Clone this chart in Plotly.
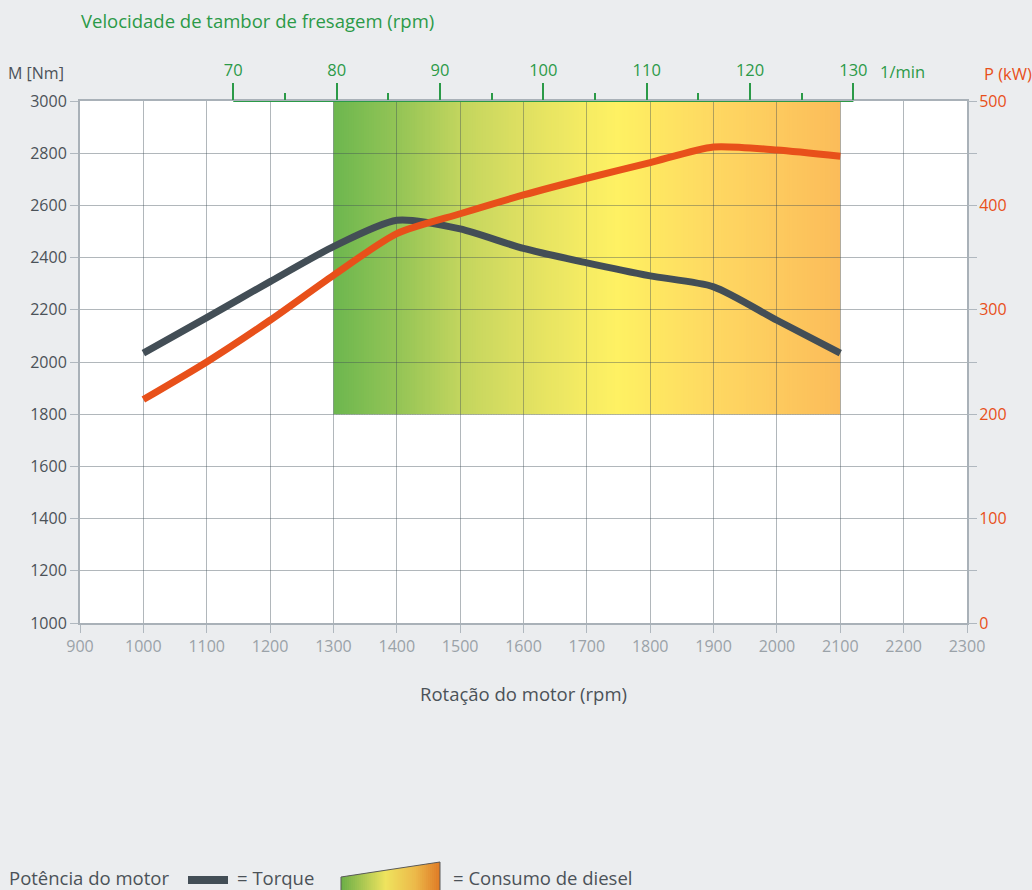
import plotly.graph_objects as go

# ---------------- data ----------------
rpm = [1000, 1100, 1200, 1300, 1400, 1500, 1600, 1700, 1800, 1900, 2000, 2100]
torque_nm = [2034, 2170, 2308, 2442, 2543, 2510, 2435, 2380, 2330, 2288, 2160, 2034]
power_kw = [214, 250, 290, 333, 373, 392, 410, 426, 441, 456, 453, 447]

x_ticks = list(range(900, 2301, 100))
y_ticks = list(range(1000, 3001, 200))
p_ticks = [0, 100, 200, 300, 400, 500]

drum_ticks = [70, 80, 90, 100, 110, 120, 130]
drum_minor = [75, 85, 95, 105, 115, 125]
drum_per_engine = 0.0613  # drum rpm per engine rpm

consumo_rpm = [1300, 2100]
consumo_nm = [1800, 3000]
consumo_pos = [0.0, 0.125, 0.25, 0.375, 0.5, 0.56, 0.65, 0.75, 0.875, 1.0]
consumo_colors = ["#6db74f", "#93c456", "#c2d55e", "#dfe062", "#f6ec63",
                  "#fef163", "#fee562", "#fed862", "#fdca5e", "#fbbc5a"]

legend_pos = [0.0, 0.45, 0.75, 1.0]
legend_colors = ["#6aae48", "#efe35e", "#ecb94a", "#df7a26"]

# ---------------- styles ----------------
FONT = "'Open Sans', Lato, sans-serif"
GREEN = "#2b9a48"
ORANGE = "#e8501a"
DARK = "#434e56"
TEXT = "#4b5258"
GRID = "rgba(60,75,85,0.40)"
TICK = "#b0b8bf"
AXLINE = "#a9b1b8"
BG = "#ebedef"

W, H = 1032, 890
L, R, T, B = 80, 65, 101, 267
PW, PH = W - L - R, H - T - B


def px_x(px):
    return (px - L) / PW


def px_y(py):
    return (H - B - py) / PH


def hex2rgb(h):
    h = h.lstrip("#")
    return tuple(int(h[i:i + 2], 16) for i in (0, 2, 4))


def interp_color(t, pos, cols):
    for i in range(len(pos) - 1):
        if pos[i] <= t <= pos[i + 1]:
            f = (t - pos[i]) / (pos[i + 1] - pos[i]) if pos[i + 1] > pos[i] else 0
            a, b = hex2rgb(cols[i]), hex2rgb(cols[i + 1])
            c = [round(a[k] + (b[k] - a[k]) * f) for k in range(3)]
            return "rgb(%d,%d,%d)" % tuple(c)
    return cols[-1]


fig = go.Figure()

# torque
fig.add_trace(go.Scatter(
    x=rpm, y=torque_nm, mode="lines", name="Torque",
    line=dict(color=DARK, width=7, shape="spline", smoothing=0.7),
    showlegend=False, hoverinfo="x+y"))

# power
fig.add_trace(go.Scatter(
    x=rpm, y=power_kw, mode="lines", name="Potência do motor", yaxis="y2",
    line=dict(color=ORANGE, width=7, shape="spline", smoothing=0.7),
    showlegend=False, hoverinfo="x+y"))

# top drum-speed axis line
fig.add_trace(go.Scatter(
    x=[drum_ticks[0], drum_ticks[-1]], y=[consumo_nm[1], consumo_nm[1]],
    xaxis="x2", mode="lines", line=dict(color=GREEN, width=2),
    cliponaxis=False, showlegend=False, hoverinfo="skip"))

shapes = []
# diesel consumption gradient region (slices under the grid)
n = 200
x0, x1 = consumo_rpm
step = (x1 - x0) / n
for i in range(n):
    t = (i + 0.5) / n
    xa = x0 + i * step
    xb = min(x1, xa + step * 1.6)
    shapes.append(dict(type="rect", xref="x", yref="y", layer="below",
                       x0=xa, x1=xb, y0=consumo_nm[0], y1=consumo_nm[1],
                       fillcolor=interp_color(t, consumo_pos, consumo_colors),
                       line=dict(width=0)))

# legend swatch: torque bar
shapes.append(dict(type="rect", xref="paper", yref="paper",
                   x0=px_x(188), x1=px_x(228), y0=px_y(884), y1=px_y(876),
                   fillcolor=DARK, line=dict(width=0)))

# legend swatch: consumption trapezoid
lx0, lx1 = 341, 440
ly_left, ly_right, ly_bot = 877, 862, 895
m = 50
for i in range(m):
    t = (i + 0.5) / m
    xa = lx0 + (lx1 - lx0) * i / m
    xb = min(lx1, lx0 + (lx1 - lx0) * (i + 1.6) / m)
    ya = ly_left + (ly_right - ly_left) * (xa - lx0) / (lx1 - lx0)
    yb = ly_left + (ly_right - ly_left) * (xb - lx0) / (lx1 - lx0)
    path = "M %f,%f L %f,%f L %f,%f L %f,%f Z" % (
        px_x(xa), px_y(ly_bot), px_x(xa), px_y(ya),
        px_x(xb), px_y(yb), px_x(xb), px_y(ly_bot))
    shapes.append(dict(type="path", xref="paper", yref="paper", path=path,
                       fillcolor=interp_color(t, legend_pos, legend_colors),
                       line=dict(width=0)))
shapes.append(dict(type="path", xref="paper", yref="paper",
                   path="M %f,%f L %f,%f L %f,%f L %f,%f" % (
                       px_x(lx0), px_y(ly_bot), px_x(lx0), px_y(ly_left),
                       px_x(lx1), px_y(ly_right), px_x(lx1), px_y(ly_bot)),
                   line=dict(color="#5a5a5a", width=1)))

LEG_Y = 877
annotations = [
    dict(text="Velocidade de tambor de fresagem (rpm)", xref="paper", yref="paper",
         x=px_x(79), y=px_y(20), xanchor="left", yanchor="middle", showarrow=False,
         font=dict(family=FONT, size=18.5, color=GREEN)),
    dict(text="M [Nm]", xref="paper", yref="paper",
         x=px_x(66), y=px_y(73), xanchor="right", yanchor="middle", showarrow=False,
         font=dict(family=FONT, size=16, color=TEXT)),
    dict(text="P (kW)", xref="paper", yref="paper",
         x=px_x(982), y=px_y(73), xanchor="left", yanchor="middle", showarrow=False,
         font=dict(family=FONT, size=16.5, color=ORANGE)),
    dict(text="1/min", xref="x2", yref="paper",
         x=drum_ticks[-1], xshift=25, y=px_y(72), xanchor="left", yanchor="middle",
         showarrow=False, font=dict(family=FONT, size=16.5, color=GREEN)),
    dict(text="Rotação do motor (rpm)", xref="paper", yref="paper",
         x=0.5, y=px_y(693), xanchor="center", yanchor="middle", showarrow=False,
         font=dict(family=FONT, size=18.5, color=TEXT)),
    dict(text="Potência do motor", xref="paper", yref="paper",
         x=px_x(7), y=px_y(LEG_Y), xanchor="left", yanchor="middle", showarrow=False,
         font=dict(family=FONT, size=18.5, color=TEXT)),
    dict(text="= Torque", xref="paper", yref="paper",
         x=px_x(235), y=px_y(LEG_Y), xanchor="left", yanchor="middle", showarrow=False,
         font=dict(family=FONT, size=18.5, color=TEXT)),
    dict(text="= Consumo de diesel", xref="paper", yref="paper",
         x=px_x(451), y=px_y(LEG_Y), xanchor="left", yanchor="middle", showarrow=False,
         font=dict(family=FONT, size=18.5, color=TEXT)),
]

fig.update_layout(
    width=W, height=H,
    margin=dict(l=L, r=R, t=T, b=B, pad=0),
    paper_bgcolor=BG, plot_bgcolor="#ffffff",
    font=dict(family=FONT),
    showlegend=False,
    shapes=shapes,
    annotations=annotations,
    xaxis=dict(range=[x_ticks[0], x_ticks[-1]], tickvals=x_ticks,
               showgrid=True, gridcolor=GRID, gridwidth=1, zeroline=False,
               showline=True, linecolor=AXLINE, linewidth=2, mirror=True,
               ticks="outside", ticklen=8, tickcolor=TICK, tickwidth=1,
               tickfont=dict(family=FONT, size=16, color="#9aa2a8"),
               layer="below traces", fixedrange=True),
    xaxis2=dict(overlaying="x", side="top", anchor="y",
                range=[x_ticks[0] * drum_per_engine, x_ticks[-1] * drum_per_engine],
                tickvals=drum_ticks, showgrid=False, zeroline=False, showline=False,
                ticks="outside", ticklen=17, tickwidth=2, tickcolor=GREEN,
                minor=dict(tickvals=drum_minor, ticks="outside", ticklen=7,
                           tickwidth=2, tickcolor=GREEN, showgrid=False),
                tickfont=dict(family=FONT, size=16.5, color=GREEN), fixedrange=True),
    yaxis=dict(range=[y_ticks[0], y_ticks[-1]], tickvals=y_ticks,
               showgrid=True, gridcolor=GRID, gridwidth=1, zeroline=False,
               showline=True, linecolor=AXLINE, linewidth=2, mirror="ticks",
               ticks="outside", ticklen=8, tickcolor=TICK, tickwidth=1,
               tickfont=dict(family=FONT, size=16, color=TEXT),
               layer="below traces", fixedrange=True),
    yaxis2=dict(overlaying="y", side="right", range=[p_ticks[0], p_ticks[-1]],
                tickvals=p_ticks, showgrid=False, zeroline=False, showline=False,
                ticks="outside", ticklen=8, tickcolor=TICK, tickwidth=1,
                tickfont=dict(family=FONT, size=16, color=ORANGE), fixedrange=True),
)

fig.write_html("out.html", config={"displayModeBar": False},
               post_script="document.body.style.margin='0';")
